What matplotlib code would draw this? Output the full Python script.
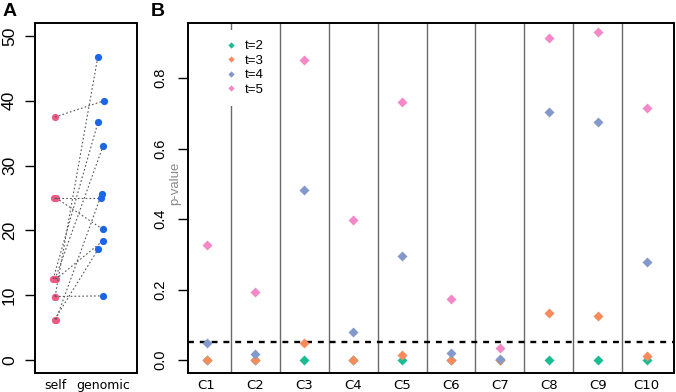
import numpy as np
import matplotlib
matplotlib.use("Agg")
import matplotlib.pyplot as plt
from matplotlib.lines import Line2D

# panel A: self vs genomic estimates (paired)
selfVals = [37.5, 25, 25, 12.5, 12.5, 12.5, 9.8, 9.8, 6.25, 6.25]
genomicVals = [40, 25.0, 20.2, 36.8, 33, 18.4, 9.9, 46.7, 17.1, 25.6]
selfJitter = [0.0, -0.03, 0.02, -0.04, 0.0, 0.02, 0.0, 0.0, -0.01, 0.02]
genomicJitter = [0.02, -0.05, -0.01, -0.1, 0.0, 0.0, 0.005, -0.11, -0.1, -0.03]
groupNames = ["self", "genomic"]

# panel B: p-values per cluster for each t
clusters = ["C1", "C2", "C3", "C4", "C5", "C6", "C7", "C8", "C9", "C10"]
pT2 = [0.0, 0.0, 0.0, 0.0, 0.0, 0.0, 0.0, 0.0, 0.0, 0.0]
pT3 = [0.0, 0.0, 0.049, 0.0, 0.015, 0.0, 0.0, 0.132, 0.126, 0.011]
pT4 = [0.047, 0.017, 0.484, 0.079, 0.295, 0.019, 0.002, 0.705, 0.677, 0.278]
pT5 = [0.326, 0.194, 0.852, 0.397, 0.734, 0.174, 0.035, 0.913, 0.932, 0.715]
series = [("t=2", pT2, "#1ABC94"), ("t=3", pT3, "#F98A5C"),
		  ("t=4", pT4, "#8398CB"), ("t=5", pT5, "#F588C6")]
cutoff = 0.05

W, H = 676, 392
fig = plt.figure(figsize=(W / 100, H / 100), dpi=100)

def box(l, t, r, b):
	return [l / W, 1 - b / H, (r - l) / W, (b - t) / H]

##### panel A
axA = fig.add_axes(box(35, 23, 137, 373))
xs = [1 + j for j in selfJitter]
xg = [2 + j for j in genomicJitter]
axA.plot(xs, selfVals, "o", color="#EE5A85", ms=5.2, mec="none", zorder=2)
for i in range(len(selfVals)):
	axA.plot([xs[i], xg[i]], [selfVals[i], genomicVals[i]], color="#555555",
			 lw=0.8, dashes=(1.5, 2), zorder=3)
axA.plot(xg, genomicVals, "o", color="#1A66E6", ms=5.2, mec="none", zorder=4)
axA.set_xlim(0.58, 2.71)
axA.set_ylim(-2, 52)
axA.set_yticks([0, 10, 20, 30, 40, 50])
axA.set_yticklabels(["0", "10", "20", "30", "40", "50"], rotation=90, va="center",
					fontsize=12.5, family="Liberation Sans")
axA.set_xticks([1, 2])
axA.set_xticklabels(groupNames, fontsize=9, family="DejaVu Sans")
axA.tick_params(axis="x", length=0, pad=4)
axA.tick_params(axis="y", length=7, width=1, pad=6)
for s in axA.spines.values():
	s.set_linewidth(1.4)

##### panel B
axB = fig.add_axes(box(188, 23, 674, 373))
pos = np.arange(1, len(clusters) + 1)
for k in range(1, len(clusters)):
	axB.axvline(k + 0.5, color="#6a6a6a", lw=1, zorder=1)
for name, vals, col in series:
	axB.plot(pos, vals, "D", color=col, ms=5.2, mec="none", zorder=3)
axB.axhline(cutoff, color="black", lw=1.7, dashes=(2.5, 2.5), zorder=2)
axB.set_xlim(0.62, 10.56)
axB.set_ylim(-0.037, 0.957)
axB.set_yticks([0.0, 0.2, 0.4, 0.6, 0.8])
axB.set_yticklabels(["0.0", "0.2", "0.4", "0.6", "0.8"], rotation=90, va="center",
					fontsize=10.5, family="Liberation Sans")
axB.set_xticks(pos)
axB.set_xticklabels(clusters, fontsize=9.5, family="DejaVu Sans")
axB.tick_params(axis="x", length=0, pad=4)
axB.tick_params(axis="y", length=7, width=1, pad=8)
for s in axB.spines.values():
	s.set_linewidth(1.4)

handles = [Line2D([], [], marker="D", ls="none", color=c, ms=3.2, mec="none")
		   for _, _, c in series]
leg = axB.legend(handles, [n for n, _, _ in series], loc="upper left",
				 bbox_to_anchor=(0.055, 0.98), frameon=True, fancybox=False,
				 edgecolor="none", facecolor="white", framealpha=1,
				 prop={"family": "Liberation Sans", "size": 9.5},
				 handlelength=1.0, handletextpad=0.5, labelspacing=0.18,
				 borderpad=0.75, borderaxespad=0)
leg.set_zorder(5)

fig.text(175 / W, 1 - 183 / H, "p-value", rotation=90, ha="center", va="center",
		 fontsize=9.5, color="#8a8a8a", family="Liberation Sans")
fig.text(3 / W, 1 - 11 / H, "A", fontsize=14, fontweight="bold",
		 family="Liberation Sans", va="center")
fig.text(151 / W, 1 - 11 / H, "B", fontsize=14, fontweight="bold",
		 family="Liberation Sans", va="center")

plt.savefig("out.png", dpi=100)
